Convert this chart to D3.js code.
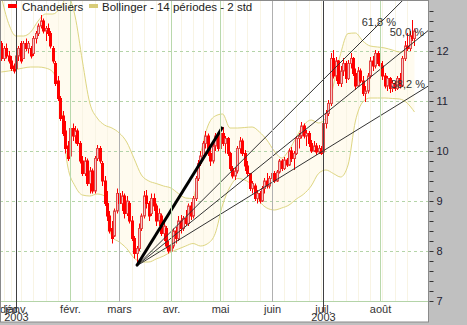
<!DOCTYPE html>
<html>
<head>
<meta charset="utf-8">
<script src="https://cdn.jsdelivr.net/npm/d3@7"></script>
<style>
  body { margin: 0; background: #fff; }
  svg { display: block; font-family: Arial, "Liberation Sans", sans-serif; }
</style>
</head>
<body>
<svg id="chart" width="467" height="325"></svg>
<script>
// ---- data ----
const firstDay = '2002-12-20';
const holidays = ['2002-12-25', '2002-12-26', '2003-01-01', '2003-04-18', '2003-04-21', '2003-05-01'];
const monthNames = ['janv.', 'févr.', 'mars', 'avr.', 'mai', 'juin', 'juil.', 'août', 'sept.', 'oct.', 'nov.', 'déc.'];

const open = [
  12.15, 11.85, 12.05, 11.9, 11.8, 11.7,
  11.65, 11.9, 12.15, 11.85, 12.15, 12.05, 12.05, 11.95, 12.25, 12.35, 12.5, 12.6, 12.4, 12.45, 12.35, 12.05, 11.75, 11.4, 11.05, 10.7, 10.4, 10.1,
  9.9, 10.45, 10.3, 10.4, 10.15, 9.8, 9.55, 9.8, 9.35, 9.6, 9.2, 9.85, 10.05, 9.75, 9.4, 8.95, 8.7, 8.45, 8.3, 8.8,
  9.15, 8.95, 9.1, 8.75, 8.95, 8.6, 8.25, 7.95, 8.05, 8.45, 8.7, 9.1, 8.95, 8.75, 9.05, 8.9, 8.6, 8.7, 8.35, 8.45, 8.1,
  8.0, 8.1, 8.4, 8.25, 8.6, 8.45, 8.65, 8.55, 8.9, 8.7, 9.05, 9.45, 9.75, 9.9, 10.15, 10.3, 9.95, 9.8, 10.1, 10.3,
  10.05, 10.35, 10.15, 10.25, 9.95, 9.65, 9.5, 9.6, 10.05, 10.2, 9.95, 9.7, 9.55, 9.25, 9.3, 9.05, 9.15, 9.0, 9.25, 9.4, 9.3,
  9.45, 9.55, 9.4, 9.58, 9.8, 9.65, 9.82, 9.72, 10.0, 9.85, 9.95, 10.25, 10.3, 10.5, 10.3, 10.35, 10.15, 10.0, 10.1, 9.98, 10.05,
  9.98, 10.55, 10.75, 10.95, 11.85, 11.5, 11.8, 11.35, 11.6, 11.75, 11.45, 11.75, 11.85, 11.55, 11.3, 11.6, 11.4, 11.15, 11.2, 11.5, 11.8, 11.7, 11.95,
  11.75, 11.7, 11.5, 11.3, 11.45, 11.25, 11.35, 11.25, 11.45, 11.3, 11.85, 12.1, 12.05, 12.3, 12.25
];
const high = [
  12.2, 12.1, 12.15, 12.0, 11.9, 11.75,
  11.95, 12.1, 12.2, 12.2, 12.25, 12.2, 12.1, 12.3, 12.4, 12.55, 12.72, 12.65, 12.5, 12.55, 12.4, 12.1, 11.8, 11.5, 11.1, 10.8, 10.6, 10.2,
  10.55, 10.55, 10.5, 10.45, 10.2, 9.9, 9.88, 9.85, 9.68, 9.65, 9.9, 10.12, 10.1, 9.8, 9.5, 9.2, 8.8, 8.6, 8.85, 9.25,
  9.25, 9.2, 9.15, 9.1, 9.0, 8.7, 8.3, 8.1, 8.55, 8.75, 9.2, 9.22, 9.0, 9.15, 9.15, 8.95, 8.85, 8.75, 8.6, 8.5, 8.2,
  8.15, 8.45, 8.48, 8.7, 8.72, 8.7, 8.82, 8.95, 8.98, 9.1, 9.5, 9.82, 10.0, 10.2, 10.4, 10.35, 10.1, 10.15, 10.36, 10.35,
  10.4, 10.48, 10.3, 10.28, 9.98, 9.7, 9.68, 10.1, 10.28, 10.25, 10.02, 9.8, 9.56, 9.4, 9.35, 9.22, 9.2, 9.3, 9.46, 9.56, 9.5,
  9.64, 9.6, 9.62, 9.84, 9.84, 9.88, 9.86, 10.05, 10.08, 10.0, 10.3, 10.36, 10.58, 10.55, 10.42, 10.4, 10.22, 10.2, 10.16, 10.12, 10.1,
  10.62, 10.82, 11.02, 11.96, 12.02, 11.88, 11.82, 11.7, 11.86, 11.8, 11.82, 11.96, 11.88, 11.65, 11.68, 11.65, 11.5, 11.3, 11.56, 11.88, 11.9, 12.02, 12.0,
  12.12, 11.8, 11.56, 11.5, 11.48, 11.42, 11.4, 11.5, 11.56, 11.9, 12.2, 12.36, 12.4, 12.62, 12.45
];
const low = [
  11.8, 11.8, 11.85, 11.75, 11.6, 11.55,
  11.6, 11.8, 11.75, 11.85, 12.0, 11.95, 11.85, 11.9, 12.15, 12.3, 12.45, 12.35, 12.2, 12.3, 12.05, 11.75, 11.3, 11.0, 10.6, 10.3, 9.95, 9.8,
  9.85, 10.2, 10.15, 10.1, 9.75, 9.5, 9.5, 9.3, 9.15, 9.15, 9.15, 9.8, 9.75, 9.3, 8.9, 8.6, 8.35, 8.15, 8.28, 8.75,
  8.85, 8.8, 8.65, 8.7, 8.55, 8.2, 7.85, 7.7, 8.0, 8.4, 8.65, 8.85, 8.6, 8.7, 8.8, 8.5, 8.5, 8.3, 8.2, 8.05, 7.95,
  7.92, 8.05, 8.15, 8.2, 8.35, 8.4, 8.5, 8.5, 8.62, 8.65, 9.0, 9.4, 9.7, 9.85, 10.05, 9.9, 9.7, 9.75, 10.0, 10.0,
  10.0, 10.1, 9.95, 9.9, 9.6, 9.45, 9.42, 9.55, 9.95, 9.9, 9.6, 9.48, 9.2, 9.15, 9.0, 8.95, 8.95, 8.98, 9.15, 9.25, 9.25,
  9.35, 9.36, 9.38, 9.55, 9.6, 9.62, 9.68, 9.7, 9.78, 9.62, 9.92, 10.05, 10.25, 10.25, 10.1, 10.08, 9.96, 9.98, 9.92, 9.94, 9.92,
  9.95, 10.45, 10.7, 10.9, 11.45, 11.4, 11.3, 11.28, 11.5, 11.36, 11.42, 11.65, 11.5, 11.22, 11.28, 11.36, 11.1, 10.98, 11.15, 11.45, 11.6, 11.65, 11.7,
  11.62, 11.42, 11.25, 11.2, 11.16, 11.18, 11.2, 11.22, 11.25, 11.28, 11.8, 12.0, 12.0, 12.2, 12.1
];
const close = [
  11.85, 12.05, 11.9, 11.8, 11.65, 11.6,
  11.9, 12.05, 11.8, 12.15, 12.05, 12.15, 11.9, 12.25, 12.35, 12.5, 12.6, 12.4, 12.45, 12.35, 12.1, 11.8, 11.35, 11.05, 10.65, 10.35, 10.05, 9.85,
  10.45, 10.3, 10.4, 10.15, 9.8, 9.55, 9.8, 9.35, 9.6, 9.2, 9.85, 10.05, 9.8, 9.4, 8.95, 8.7, 8.4, 8.25, 8.8, 9.15,
  8.95, 9.1, 8.75, 9.0, 8.6, 8.25, 7.95, 8.05, 8.45, 8.7, 9.1, 8.95, 8.7, 9.05, 8.9, 8.6, 8.75, 8.35, 8.5, 8.1, 8.0,
  8.1, 8.4, 8.25, 8.6, 8.45, 8.65, 8.55, 8.9, 8.7, 9.05, 9.45, 9.75, 9.9, 10.15, 10.3, 9.95, 9.8, 10.1, 10.3, 10.05,
  10.35, 10.15, 10.25, 9.95, 9.65, 9.5, 9.6, 10.05, 10.2, 9.95, 9.7, 9.55, 9.25, 9.35, 9.05, 9.15, 9.0, 9.25, 9.4, 9.3, 9.45,
  9.55, 9.4, 9.58, 9.8, 9.65, 9.82, 9.72, 10.0, 9.85, 9.95, 10.25, 10.3, 10.5, 10.3, 10.35, 10.15, 10.0, 10.1, 9.98, 10.05, 9.95,
  10.55, 10.75, 10.95, 11.85, 11.5, 11.8, 11.35, 11.6, 11.75, 11.45, 11.75, 11.85, 11.55, 11.3, 11.6, 11.4, 11.15, 11.2, 11.5, 11.8, 11.7, 11.95, 11.75,
  11.7, 11.5, 11.3, 11.45, 11.25, 11.35, 11.25, 11.45, 11.3, 11.85, 12.1, 12.05, 12.3, 12.25, 12.4
];

// Bollinger bands (14 periods, 2 std) every 3 trading days
const bandDay = d3.range(0, 169, 3);
const bandUpper = [
  13.1, 12.55, 12.3, 12.3, 12.38, 12.6, 12.74, 12.74, 12.86, 13.1, 12.7, 11.8, 10.96, 10.66, 10.52, 10.46, 10.36, 10.18, 9.85,
  9.52, 9.4, 9.35, 9.3, 9.26, 9.15, 9.06, 9.05, 9.92, 10.5, 10.7, 10.74, 10.46, 10.46, 10.47, 10.48, 10.38, 10.22, 10.0,
  9.86, 10.02, 10.28, 10.52, 10.62, 10.56, 10.66, 11.3, 11.95, 12.35, 12.36, 12.2, 12.1, 12.08, 12.06, 12.02, 11.98, 12.02, 12.22
];
const bandLower = [
  11.58, 11.6, 11.63, 11.66, 11.68, 11.68, 11.66, 11.58, 11.02, 9.7, 9.3, 9.12, 9.1, 9.14, 9.1, 8.28, 8.18, 8.05, 7.86,
  7.78, 7.78, 7.84, 7.9, 7.98, 8.04, 8.1, 8.15, 8.1, 8.15, 8.35, 8.92, 9.28, 9.45, 9.42, 9.3, 9.0, 8.86, 8.82,
  8.86, 8.92, 9.04, 9.14, 9.3, 9.55, 9.62, 9.55, 9.48, 9.72, 10.6, 10.98, 11.06, 11.06, 11.06, 11.05, 11.04, 10.96, 10.78
];

// Fibonacci fan: low of mid-March to high of early May
const fanStart = [55, 7.7];
const fanEnd = [90, 10.48];
const fanLevels = [0.382, 0.5, 0.618];
const fanLabels = ['38,2 %', '50,0 %', '61,8 %'];

const yTicks = [7, 8, 9, 10, 11, 12];

// ---- layout ----
const W = 467, H = 325;
const plotW = 428, plotH = 302, axisH = 322;
const SLOTS = 174;

const svg = d3.select('#chart');

function tradingDays(start, count) {
  const fmt = d3.timeFormat('%Y-%m-%d');
  const out = [];
  const d = new Date(start + 'T12:00:00');
  while (out.length < count) {
    const wd = d.getDay();
    if (wd !== 0 && wd !== 6 && !holidays.includes(fmt(d))) out.push(new Date(d));
    d.setDate(d.getDate() + 1);
  }
  return out;
}
const days = tradingDays(firstDay, open.length);

const x = d3.scaleLinear().domain([-0.5, SLOTS - 0.5]).range([0, plotW]);
const y = d3.scaleLinear().domain([7, 13.02]).range([301, 0]);
const px = (k) => Math.round(x(k)) + 0.5;

svg.append('rect').attr('width', W).attr('height', H).attr('fill', '#c0c0c0');
svg.append('rect').attr('x', 0).attr('y', 0).attr('width', plotW + 1).attr('height', axisH)
  .attr('fill', '#fff');

svg.append('defs').append('clipPath').attr('id', 'plot-clip')
  .append('rect').attr('width', plotW).attr('height', plotH);

const plot = svg.append('g').attr('clip-path', 'url(#plot-clip)');

// band fill
const bandRows = bandDay.map((k, i) => ({ k, hi: bandUpper[i], lo: bandLower[i] }));
plot.append('path')
  .datum(bandRows)
  .attr('fill', '#fffbef')
  .attr('d', d3.area().curve(d3.curveMonotoneX)
    .x((d) => x(d.k)).y0((d) => y(d.lo)).y1((d) => y(d.hi)));

// weekly lines
const weekStarts = days.map((d, k) => ({ d, k }))
  .filter((e, i, arr) => i > 0 && e.d.getDay() < arr[i - 1].d.getDay());
plot.append('g').selectAll('line').data(weekStarts).join('line')
  .attr('x1', (d) => px(d.k)).attr('x2', (d) => px(d.k))
  .attr('y1', 0).attr('y2', plotH)
  .attr('stroke', '#f8f4e4');

// horizontal grid
plot.append('g').selectAll('line').data(yTicks).join('line')
  .attr('x1', 0).attr('x2', plotW)
  .attr('y1', (d) => Math.round(y(d)) + 0.5).attr('y2', (d) => Math.round(y(d)) + 0.5)
  .attr('stroke', '#b4d4a8')
  .attr('stroke-dasharray', (d) => (d === 7 ? null : '3,3'));

// month lines
const monthStarts = days.map((d, k) => ({ d, k }))
  .filter((e, i, arr) => i > 0 && e.d.getMonth() !== arr[i - 1].d.getMonth());
function monthColor(m) {
  if (m === 0 || m === 6) return '#404040';
  if (m === 2 || m === 5) return '#b0b0b0';
  return '#b8d8ac';
}
svg.append('g').selectAll('line').data(monthStarts).join('line')
  .attr('x1', (d) => px(d.k)).attr('x2', (d) => px(d.k))
  .attr('y1', 0)
  .attr('y2', (d) => (d.d.getMonth() % 6 === 0 ? 312 : plotH))
  .attr('stroke', (d) => monthColor(d.d.getMonth()));

// band lines
['hi', 'lo'].forEach((key) => {
  plot.append('path')
    .datum(bandRows)
    .attr('fill', 'none')
    .attr('stroke', '#ded682')
    .attr('d', d3.line().curve(d3.curveMonotoneX).x((d) => x(d.k)).y((d) => y(d[key])));
});

// fan labels sit under the candles
const labelPos = [[425, 88], [424, 36], [396, 26]];
svg.append('g').selectAll('text').data(fanLabels).join('text')
  .attr('x', (d, i) => labelPos[i][0]).attr('y', (d, i) => labelPos[i][1])
  .attr('text-anchor', 'end')
  .attr('font-size', 11)
  .attr('fill', '#333')
  .text((d) => d);

// candles
const candles = open.map((o, k) => ({ k, o, h: high[k], l: low[k], c: close[k] }));
const cg = plot.append('g');
cg.selectAll('line').data(candles).join('line')
  .attr('x1', (d) => px(d.k)).attr('x2', (d) => px(d.k))
  .attr('y1', (d) => y(d.h)).attr('y2', (d) => y(d.l))
  .attr('stroke', '#ff0000');
cg.selectAll('rect').data(candles).join('rect')
  .attr('x', (d) => px(d.k) - 1)
  .attr('width', 2)
  .attr('y', (d) => y(Math.max(d.o, d.c)))
  .attr('height', (d) => Math.max(1, Math.abs(y(d.o) - y(d.c))))
  .attr('fill', (d) => (d.c >= d.o ? '#f6c4c4' : '#ff0000'))
  .attr('stroke', (d) => (d.c >= d.o ? '#e04848' : '#ff0000'));

// fan lines
const x0 = x(fanStart[0]), y0 = y(fanStart[1]);
const xEnd = x(SLOTS - 0.5);
fanLevels.forEach((r) => {
  const v = fanStart[1] + r * (fanEnd[1] - fanStart[1]);
  const slope = (y(v) - y0) / (x(fanEnd[0]) - x0);
  plot.append('line')
    .attr('x1', x0).attr('y1', y0)
    .attr('x2', xEnd).attr('y2', y0 + slope * (xEnd - x0))
    .attr('stroke', '#333').attr('stroke-width', 1);
});
plot.append('line')
  .attr('x1', x0).attr('y1', y0)
  .attr('x2', x(fanEnd[0])).attr('y2', y(fanEnd[1]))
  .attr('stroke', '#000').attr('stroke-width', 3);

// x axis labels
const xl = svg.append('g').attr('font-size', 11).attr('fill', '#333');
xl.append('text').attr('x', 0).attr('y', 313).text(monthNames[days[0].getMonth()]);
monthStarts.forEach((m) => {
  xl.append('text').attr('x', px(m.k)).attr('y', 313).attr('text-anchor', 'middle')
    .text(monthNames[m.d.getMonth()]);
  if (m.d.getMonth() % 6 === 0) {
    xl.append('text').attr('x', px(m.k)).attr('y', 321).attr('text-anchor', 'middle')
      .text(m.d.getFullYear());
  }
});

// frame
svg.append('rect').attr('x', 0.5).attr('y', 0.5).attr('width', plotW).attr('height', axisH - 0.5)
  .attr('fill', 'none').attr('stroke', '#8a8a8a');

// right y axis
const yAxis = d3.axisRight(y)
  .tickValues(d3.range(7, 12.81, 0.2))
  .tickSize(4)
  .tickFormat((d) => (Math.abs(d - Math.round(d)) < 1e-6 ? d3.format('d')(Math.round(d)) : ''));
const ya = svg.append('g').attr('transform', `translate(${plotW + 1.5},0)`).call(yAxis);
ya.select('.domain').remove();
ya.selectAll('line').attr('stroke', '#333');
ya.selectAll('text').attr('fill', '#223').attr('font-size', 11).attr('x', 7)
  .attr('font-family', 'Arial, "Liberation Sans", sans-serif');

// legend
const lg = svg.append('g').attr('font-size', 11.5).attr('fill', '#222');
lg.append('rect').attr('x', 8).attr('y', 4).attr('width', 9).attr('height', 4).attr('fill', '#ff0000');
lg.append('text').attr('x', 22).attr('y', 11).text('Chandeliers');
lg.append('rect').attr('x', 89).attr('y', 4).attr('width', 9).attr('height', 4).attr('fill', '#d8cc78');
lg.append('text').attr('x', 102).attr('y', 11).text('Bollinger - 14 périodes - 2 std');
</script>
</body>
</html>
